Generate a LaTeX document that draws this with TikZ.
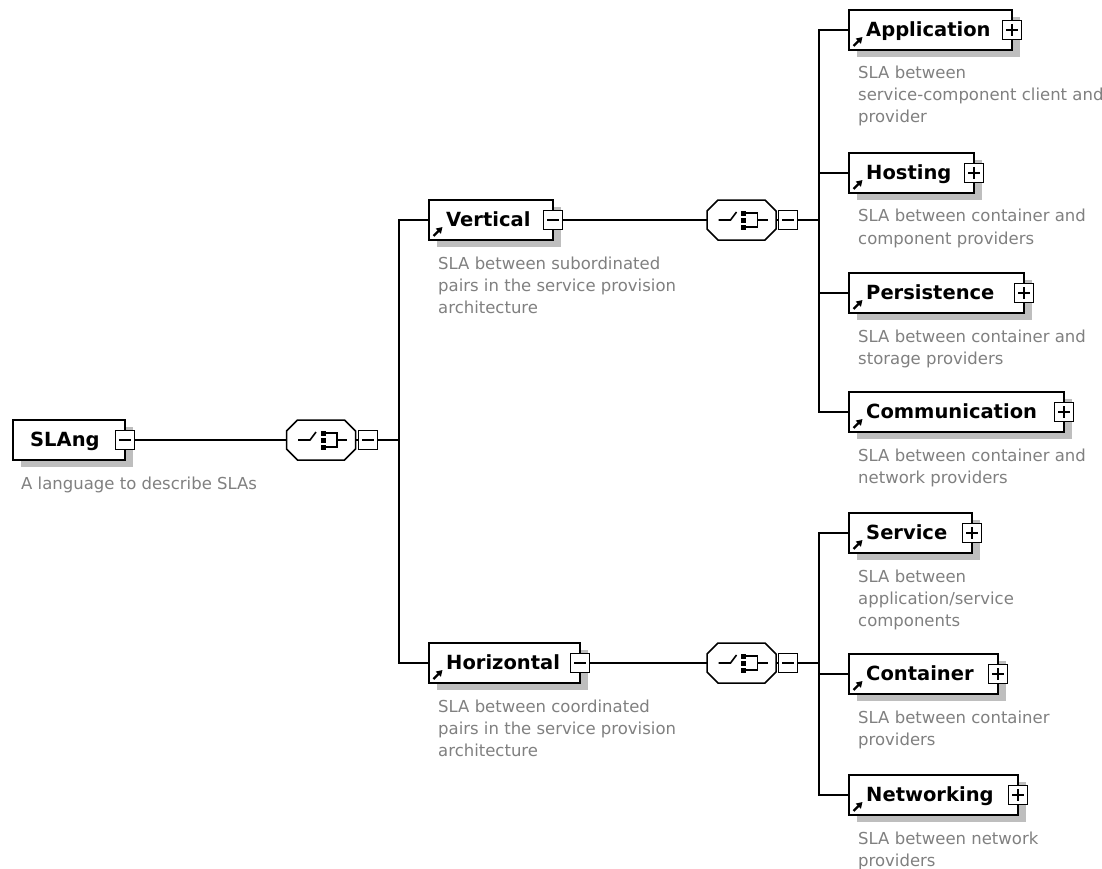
\documentclass[tikz,border=0pt]{standalone}
\usepackage{fontspec}
\setmainfont{DejaVu Sans}
\usetikzlibrary{calc,shadows,arrows.meta}

\definecolor{descgray}{RGB}{128,128,128}
\definecolor{shadowgray}{RGB}{190,190,190}
\definecolor{softshadow}{RGB}{210,210,210}

\tikzset{
  wire/.style={line width=1.6pt},
  elembox/.style={draw, line width=1.8pt, fill=white, minimum height=40pt,
    inner sep=0pt, outer sep=0pt,
    drop shadow={shadow xshift=8pt, shadow yshift=-7pt, fill=shadowgray, opacity=1}},
  lbl/.style={font=\bfseries\fontsize{19.5}{22}\selectfont, inner sep=0pt},
  desc/.style={font=\fontsize{16.5}{22}\selectfont, text=descgray, inner sep=0pt, anchor=base west},
  signbox/.style={draw, line width=1.3pt, fill=white, minimum size=19pt, inner sep=0pt, outer sep=0pt},
  signline/.style={line width=1.3pt},
  iconarrow/.style={line width=2.2pt, -{Triangle[length=6pt,width=7pt]}},
  compbox/.style={minimum width=69pt, minimum height=40pt, inner sep=0pt, outer sep=0pt},
  compline/.style={line width=1.5pt},
  symline/.style={line width=1.6pt},
}

% grey description lines under a box
\newcommand{\desclines}[1]{\begin{tabular}[t]{@{}l@{}}#1\end{tabular}}
% element box: name, left x, width, centre y, label
\newcommand{\elembox}[5]{%
  \node[elembox, minimum width=#3pt, anchor=west] (#1) at (#2,#4) {};
  \node[lbl, anchor=base west] (#1-t) at ($(#1.west)+(17,6.5)$) {#5};
}
% reference arrow in the lower left corner of a box
\newcommand{\refarrow}[1]{%
  \draw[iconarrow] ($(#1.south west)+(4.5,-4)$) -- ++(9,-9);
}
% collapse / expand buttons on the right edge of a node
\newcommand{\minusbox}[2]{%
  \node[signbox] (#1-s) at (#2) {};
  \draw[signline] ($(#1-s)+(-6,0)$) -- ($(#1-s)+(6,0)$);
}
\newcommand{\plusbox}[2]{%
  \node[signbox] (#1-s) at (#2) {};
  \draw[signline] ($(#1-s)+(-6,0)$) -- ($(#1-s)+(6,0)$)
                  ($(#1-s)+(0,-6)$) -- ($(#1-s)+(0,6)$);
}
% octagonal compositor outline with its shadow
\newcommand{\octpath}[1]{%
  ($(#1)+(-34.5,-9)$) -- ($(#1)+(-23.5,-20)$) -- ($(#1)+(23.5,-20)$) --
  ($(#1)+(34.5,-9)$) -- ($(#1)+(34.5,9)$) -- ($(#1)+(23.5,20)$) --
  ($(#1)+(-23.5,20)$) -- ($(#1)+(-34.5,9)$) -- cycle}
\newcommand{\compositor}[2]{%
  \node[compbox] (#1) at (#2) {};
  \fill[softshadow, shift={(7,6)}] \octpath{#1};
  \draw[compline, fill=white] \octpath{#1};
  % choice symbol
  \draw[symline] ($(#1)+(-23,0)$) -- ($(#1)+(-11,0)$) -- ($(#1)+(-5,-8)$);
  \fill ($(#1)+(-0.5,-9.5)$) rectangle ($(#1)+(4.5,-4.5)$);
  \fill ($(#1)+(-0.5,-2.5)$) rectangle ($(#1)+(4.5,2.5)$);
  \fill ($(#1)+(-0.5,4.5)$) rectangle ($(#1)+(4.5,9.5)$);
  \draw[symline] ($(#1)+(4,-7)$) -- ($(#1)+(16,-7)$) -- ($(#1)+(16,7)$) -- ($(#1)+(4,7)$);
  \draw[symline] ($(#1)+(16,0)$) -- ($(#1)+(26,0)$);
}

\begin{document}
\begin{tikzpicture}[x=1pt,y=-1pt]
\useasboundingbox (0,0) rectangle (1102,869);
\fill[white] (0,0) rectangle (1102,869);

% root element
\elembox{slang}{13}{112}{440}{SLAng}
\minusbox{slang}{slang.east}
\node[desc] (slang-d) at ($(slang.west)+(8,49)$) {\desclines{A language to describe SLAs}};

% first choice
\compositor{c1}{321,440}
\minusbox{c1}{368,440}
\coordinate (b1) at (399,440);

% second level
\elembox{vert}{429}{124}{220}{Vertical}
\refarrow{vert}
\minusbox{vert}{vert.east}
\node[desc] (vert-d) at ($(vert.west)+(9,49)$)
  {\desclines{SLA between subordinated\\pairs in the service provision\\architecture}};

\elembox{horiz}{429}{151}{663}{Horizontal}
\refarrow{horiz}
\minusbox{horiz}{horiz.east}
\node[desc] (horiz-d) at ($(horiz.west)+(9,49)$)
  {\desclines{SLA between coordinated\\pairs in the service provision\\architecture}};

% choices below Vertical and Horizontal
\compositor{c2}{741.5,220}
\minusbox{c2}{788,220}
\coordinate (b2) at (819,220);

\compositor{c3}{741.5,663}
\minusbox{c3}{788,663}
\coordinate (b3) at (819,663);

% leaves of Vertical
\elembox{app}{849}{163}{30}{Application}
\refarrow{app}
\plusbox{app}{app.east}
\node[desc] (app-d) at ($(app.west)+(9,49)$)
  {\desclines{SLA between\\service-component client and\\provider}};

\elembox{host}{849}{125}{173}{Hosting}
\refarrow{host}
\plusbox{host}{host.east}
\node[desc] (host-d) at ($(host.west)+(9,49)$)
  {\desclines{SLA between container and\\component providers}};

\elembox{pers}{849}{175}{293}{Persistence}
\refarrow{pers}
\plusbox{pers}{pers.east}
\node[desc] (pers-d) at ($(pers.west)+(9,49)$)
  {\desclines{SLA between container and\\storage providers}};

\elembox{comm}{849}{215}{412}{Communication}
\refarrow{comm}
\plusbox{comm}{comm.east}
\node[desc] (comm-d) at ($(comm.west)+(9,49)$)
  {\desclines{SLA between container and\\network providers}};

% leaves of Horizontal
\elembox{serv}{849}{123}{533}{Service}
\refarrow{serv}
\plusbox{serv}{serv.east}
\node[desc] (serv-d) at ($(serv.west)+(9,49)$)
  {\desclines{SLA between\\application/service\\components}};

\elembox{cont}{849}{149}{674}{Container}
\refarrow{cont}
\plusbox{cont}{cont.east}
\node[desc] (cont-d) at ($(cont.west)+(9,49)$)
  {\desclines{SLA between container\\providers}};

\elembox{netw}{849}{169}{795}{Networking}
\refarrow{netw}
\plusbox{netw}{netw.east}
\node[desc] (netw-d) at ($(netw.west)+(9,49)$)
  {\desclines{SLA between network\\providers}};

% connectors
\draw[wire] (slang-s.east) -- (c1.west);
\draw[wire] (c1.east) -- (c1-s.west);
\draw[wire] (c1-s.east) -- (b1);
\draw[wire] (vert.west) -| (b1) |- (horiz.west);

\draw[wire] (vert-s.east) -- (c2.west);
\draw[wire] (c2.east) -- (c2-s.west);
\draw[wire] (c2-s.east) -- (b2);
\draw[wire] (app.west) -| (b2) |- (comm.west);
\draw[wire] (host.west) -- (host.west -| b2);
\draw[wire] (pers.west) -- (pers.west -| b2);

\draw[wire] (horiz-s.east) -- (c3.west);
\draw[wire] (c3.east) -- (c3-s.west);
\draw[wire] (c3-s.east) -- (b3);
\draw[wire] (serv.west) -| (b3) |- (netw.west);
\draw[wire] (cont.west) -- (cont.west -| b3);
\end{tikzpicture}
\end{document}
